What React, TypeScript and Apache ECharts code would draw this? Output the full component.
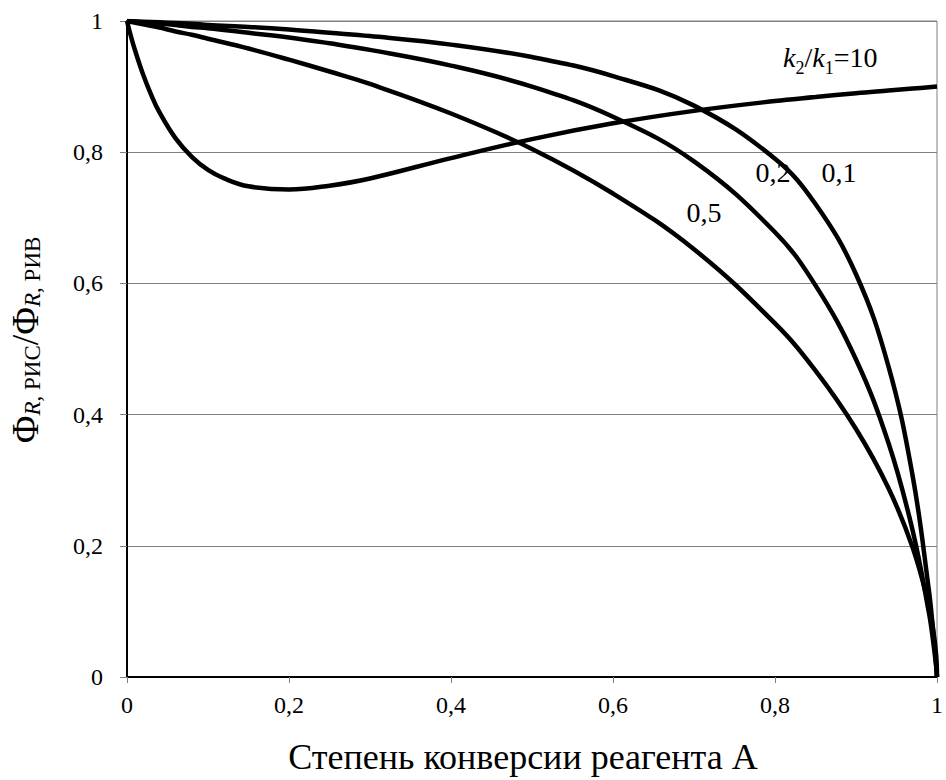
import React, { useEffect, useRef } from 'react';
import * as echarts from 'echarts';

// Conversion of reagent A (x) for the k2/k1 = 10 curve
const X_K10 = [0, 0.005, 0.01, 0.02, 0.03, 0.04, 0.06, 0.08, 0.1, 0.12, 0.15, 0.2, 0.25, 0.3, 0.4, 0.5, 0.6, 0.7, 0.8, 0.85, 0.9, 0.94, 0.97, 0.99, 1];
const Y_K10 = [1, 0.976, 0.955, 0.918, 0.887, 0.861, 0.821, 0.793, 0.773, 0.760, 0.748, 0.743, 0.749, 0.760, 0.791, 0.820, 0.844, 0.863, 0.878, 0.884, 0.890, 0.894, 0.897, 0.899, 0.900];

// Conversion values for the k2/k1 = 0.5, 0.2, 0.1 curves
const X_LOW = [0, 0.02, 0.04, 0.06, 0.08, 0.1, 0.15, 0.2, 0.25, 0.3, 0.4, 0.5, 0.6, 0.7, 0.8, 0.85, 0.9, 0.94, 0.97, 0.99, 0.995, 0.999, 1];
const Y_K05 = [1, 0.995, 0.990, 0.984, 0.979, 0.973, 0.958, 0.941, 0.923, 0.904, 0.859, 0.805, 0.737, 0.652, 0.539, 0.467, 0.378, 0.288, 0.197, 0.109, 0.075, 0.033, 0];
const Y_K02 = [1, 0.998, 0.996, 0.994, 0.991, 0.989, 0.982, 0.975, 0.966, 0.956, 0.932, 0.900, 0.854, 0.786, 0.678, 0.597, 0.484, 0.357, 0.223, 0.098, 0.057, 0.016, 0];
const Y_K01 = [1, 0.999, 0.998, 0.997, 0.996, 0.994, 0.991, 0.987, 0.982, 0.977, 0.964, 0.945, 0.916, 0.871, 0.790, 0.721, 0.614, 0.474, 0.306, 0.132, 0.073, 0.018, 0];

const X_TITLE = 'Степень конверсии реагента А';
const CURVE_LABELS = ['0,5', '0,2', '0,1'];

const FONT = '"Liberation Serif", "Times New Roman", serif';

export default function App() {
  const ref = useRef<HTMLDivElement>(null);

  useEffect(() => {
    if (!ref.current) return;
    const chart = echarts.init(ref.current, null, { renderer: 'svg' });
    const fmt = (v: number) => String(Math.round(v * 10) / 10).replace('.', ',');
    const mkLine = (name: string, xs: number[], ys: number[]) => ({
      name,
      type: 'line',
      data: xs.map((x, i) => [x, ys[i]]),
      symbol: 'none',
      showSymbol: false,
      smooth: 0.4,
      lineStyle: { color: '#000', width: 4.5 },
      silent: true,
      z: 5,
    });

    chart.setOption({
      animation: false,
      backgroundColor: '#ffffff',
      textStyle: { fontFamily: FONT },
      grid: {
        left: 127,
        right: 2,
        top: 21,
        bottom: 103,
        show: true,
        borderColor: '#808080',
        borderWidth: 1,
        backgroundColor: 'transparent',
      },
      xAxis: {
        type: 'value',
        min: 0,
        max: 1,
        interval: 0.2,
        axisLine: { show: true, onZero: false, lineStyle: { color: '#000', width: 2 } },
        axisTick: { show: true, length: 6, lineStyle: { color: '#808080', width: 1 } },
        axisLabel: { formatter: fmt, fontFamily: FONT, fontSize: 24, color: '#000', margin: 16 },
        splitLine: { show: false },
      },
      yAxis: {
        type: 'value',
        min: 0,
        max: 1,
        interval: 0.2,
        axisLine: { show: true, lineStyle: { color: '#000', width: 2 } },
        axisTick: { show: true, length: 7, lineStyle: { color: '#808080', width: 1 } },
        axisLabel: { formatter: fmt, fontFamily: FONT, fontSize: 24, color: '#000', margin: 24 },
        splitLine: { show: true, lineStyle: { color: '#808080', width: 1 } },
      },
      series: [
        mkLine('10', X_K10, Y_K10),
        mkLine('0,5', X_LOW, Y_K05),
        mkLine('0,2', X_LOW, Y_K02),
        mkLine('0,1', X_LOW, Y_K01),
      ],
      graphic: [
        {
          type: 'text',
          x: 523,
          y: 757,
          style: {
            text: X_TITLE,
            fontFamily: FONT,
            fontSize: 36,
            fill: '#000',
            align: 'center',
            verticalAlign: 'middle',
          },
        },
        {
          type: 'text',
          x: 25,
          y: 340,
          rotation: Math.PI / 2,
          style: {
            text: '{b|Φ}{i|R}{s|, РИС}{b|/Φ}{i|R}{s|, РИВ}',
            fill: '#000',
            align: 'center',
            verticalAlign: 'middle',
            rich: {
              b: { fontFamily: FONT, fontSize: 38, verticalAlign: 'bottom', fill: '#000' },
              i: { fontFamily: FONT, fontSize: 23, fontStyle: 'italic', verticalAlign: 'bottom', fill: '#000' },
              s: { fontFamily: FONT, fontSize: 23, verticalAlign: 'bottom', fill: '#000' },
            },
          },
        },
        {
          type: 'text',
          x: 783,
          y: 60,
          style: {
            text: '{i|k}{s|2}{n|/}{i|k}{s|1}{n|=10}',
            fill: '#000',
            align: 'left',
            verticalAlign: 'middle',
            rich: {
              i: { fontFamily: FONT, fontSize: 28, fontStyle: 'italic', verticalAlign: 'bottom', padding: [0, 0, 5, 0], fill: '#000' },
              n: { fontFamily: FONT, fontSize: 28, verticalAlign: 'bottom', padding: [0, 0, 5, 0], fill: '#000' },
              s: { fontFamily: FONT, fontSize: 18, verticalAlign: 'bottom', fill: '#000' },
            },
          },
        },
        {
          type: 'text',
          x: 704,
          y: 212,
          style: { text: CURVE_LABELS[0], fontFamily: FONT, fontSize: 28, fill: '#000', align: 'center', verticalAlign: 'middle' },
        },
        {
          type: 'text',
          x: 773,
          y: 172,
          style: { text: CURVE_LABELS[1], fontFamily: FONT, fontSize: 28, fill: '#000', align: 'center', verticalAlign: 'middle' },
        },
        {
          type: 'text',
          x: 839,
          y: 172,
          style: { text: CURVE_LABELS[2], fontFamily: FONT, fontSize: 28, fill: '#000', align: 'center', verticalAlign: 'middle' },
        },
      ],
    });

    return () => chart.dispose();
  }, []);

  return <div ref={ref} style={{ position: 'fixed', left: 0, top: 0, width: 946, height: 780 }} />;
}
